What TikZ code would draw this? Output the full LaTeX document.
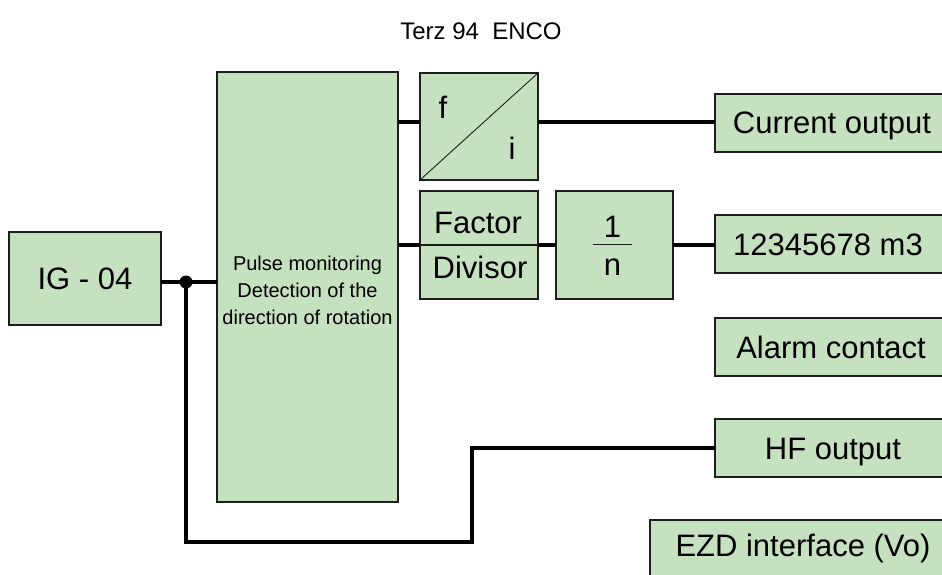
\documentclass[tikz,border=0pt]{standalone}
\usepackage{fontspec}
\setmainfont{Liberation Sans}
\definecolor{boxfill}{RGB}{198,225,192}
\definecolor{boxline}{RGB}{30,30,30}
\begin{document}
\begin{tikzpicture}[x=1pt,y=-1pt,
  box/.style={draw=boxline,fill=boxfill,line width=1.4pt,inner sep=0pt,outer sep=0pt,
    font=\fontsize{31}{36}\selectfont,text height=22pt,text depth=0pt},
  conn/.style={line width=3.8pt,black},
  thinconn/.style={line width=3.3pt,black,line join=miter},
  big/.style={font=\fontsize{31}{36}\selectfont,inner sep=0pt}]
\useasboundingbox (0,0) rectangle (942,575);
\node[font=\fontsize{24}{28}\selectfont] (title) at (481,31) {Terz 94\ \ ENCO};
% boxes
\node[box,minimum width=152,minimum height=93] (ig) at (85,278.5) {IG - 04};
\node[box,minimum width=181,minimum height=430] (pulse) at (307.5,287) {};
\node[align=center,font=\fontsize{20}{27}\selectfont,inner sep=0pt] (pulsetext)
  at ([yshift=-3pt]pulse.center) {Pulse monitoring\\Detection of the\\direction of rotation};
\node[box,minimum width=118,minimum height=107] (fi) at (479,126.5) {};
\node[box,minimum width=118,minimum height=108] (fd) at (479,245) {};
\node[box,minimum width=117,minimum height=108] (inv) at (614.5,245) {};
\node[box,minimum width=229,minimum height=58] (cur) at (829.5,123) {\hspace*{5pt}Current output};
\node[box,minimum width=229,minimum height=58] (num) at (829.5,244) {12345678 m3\hspace*{3pt}};
\node[box,minimum width=229,minimum height=58] (alarm) at (829.5,347) {\hspace*{3pt}Alarm contact};
\node[box,minimum width=229,minimum height=58] (hf) at (829.5,448) {\hspace*{7pt}HF output};
\node[box,minimum width=294,minimum height=60] (ezd) at (797,550) {\raisebox{5pt}{\hspace*{12pt}EZD interface (Vo)}};
% inner details
\draw[line width=0.9pt,boxline] (fi.south west) -- (fi.north east);
\node[big] (f) at ([shift={(-36,-19.5)}]fi.center) {f};
\node[big] (i) at ([shift={(33,21.5)}]fi.center) {i};
\draw[line width=1.4pt,boxline] (fd.west) -- (fd.east);
\node[big] (factor) at ([shift={(-1,-22)}]fd.center) {Factor};
\node[big] (divisor) at ([shift={(1,22)}]fd.center) {Divisor};
\node[big] (one) at ([shift={(-2,-18)}]inv.center) {1};
\node[big] (n) at ([shift={(-2,22)}]inv.center) {n};
\coordinate (barl) at ([shift={(-21.5,-1)}]inv.center);
\coordinate (barr) at ([shift={(17.5,-1)}]inv.center);
\draw[line width=0.9pt,boxline] (barl) -- (barr);
% connectors
\node[circle,fill=black,minimum size=13pt,inner sep=0pt] (dot) at (186,282) {};
\coordinate (c2) at (472,542);
\draw[conn] (ig.east |- dot) -- (dot.center) -- (pulse.west |- dot);
\draw[thinconn] (dot.center) |- (c2) |- (hf.west);
\draw[conn] ([yshift=4.5pt]pulse.east |- fi.west) -- ([yshift=4.5pt]fi.west);
\draw[conn] ([yshift=4.5pt]fi.east) -- ([yshift=4.5pt]fi.east -| cur.west);
\draw[conn] (pulse.east |- fd.west) -- (fd.west);
\draw[conn] (fd.east) -- (inv.west);
\draw[conn] (inv.east) -- (inv.east -| num.west);
\end{tikzpicture}
\end{document}
